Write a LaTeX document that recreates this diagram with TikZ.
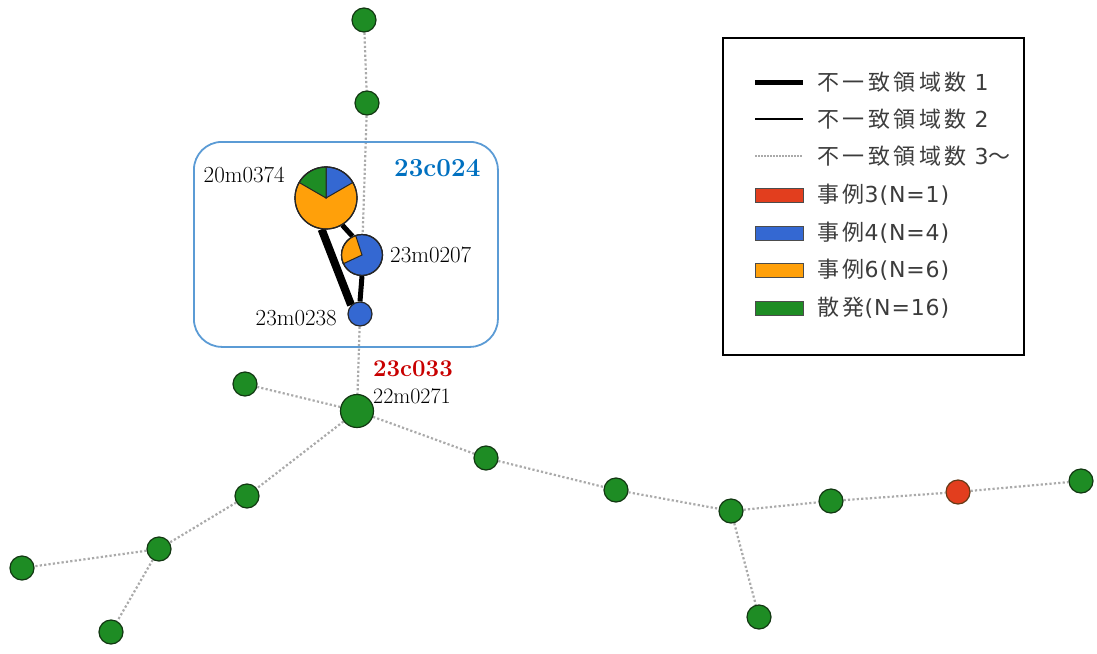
\documentclass[tikz,border=0pt]{standalone}
\usepackage{fontspec}
\newfontfamily\jpfont[LetterSpace=16]{Noto Sans CJK JP}
\newfontfamily\latfont[LetterSpace=4]{DejaVu Sans}
\usetikzlibrary{backgrounds}

\definecolor{nodegreen}{RGB}{30,140,36}
\definecolor{nodeedge}{RGB}{18,55,18}
\definecolor{casered}{RGB}{226,62,30}
\definecolor{caseblue}{RGB}{52,104,210}
\definecolor{caseorange}{RGB}{255,160,10}
\definecolor{boxblue}{RGB}{91,155,213}
\definecolor{titleblue}{RGB}{0,112,192}
\definecolor{titlered}{RGB}{200,0,0}
\definecolor{textgray}{RGB}{60,60,60}
\definecolor{dotgray}{RGB}{170,170,170}

\tikzset{
  gnode/.style={circle, draw=nodeedge, fill=nodegreen, line width=1.2pt,
    minimum size=24pt, inner sep=0pt},
  rnode/.style={gnode, fill=casered, draw=nodeedge!60!casered},
  pienode/.style={circle, draw=black!85, line width=1.2pt, inner sep=0pt},
  wedge/.style={draw=black!85, line width=1pt},
  far/.style={draw=dotgray, line width=2.2pt, dash pattern=on 2.2pt off 2.2pt},
  diffone/.style={draw=black, line width=8pt},
  difftwo/.style={draw=black, line width=5pt},
  idlabel/.style={inner sep=0pt, font=\fontsize{23}{27}\selectfont},
  legtext/.style={anchor=west, inner sep=0pt, text=textgray,
    font=\fontsize{22}{26}\selectfont},
  swatch/.style={draw=black!70, line width=1pt}
}

\begin{document}
\begin{tikzpicture}[x=1pt,y=-1pt]
\useasboundingbox (0,0) rectangle (1097,653);

% cluster frame
\node[draw=boxblue, line width=1.8pt, rounded corners=28pt,
  minimum width=304pt, minimum height=205pt, anchor=north west] (cluster) at (193,141) {};

% sporadic isolates
\node[gnode] (t1) at (364,20) {};
\node[gnode] (t2) at (367,103) {};
\node[gnode, minimum size=33pt] (n271) at (357,411) {};
\node[gnode] (a1) at (245,384) {};
\node[gnode] (b1) at (247,496) {};
\node[gnode] (b2) at (159,549) {};
\node[gnode] (b3) at (22,568) {};
\node[gnode] (b4) at (111,632) {};
\node[gnode] (c1) at (486,458) {};
\node[gnode] (c2) at (616,490) {};
\node[gnode] (c3) at (731,511) {};
\node[gnode] (c4) at (759,617) {};
\node[gnode] (c5) at (831,501) {};
\node[rnode] (c6) at (958,492) {};
\node[gnode] (c7) at (1081,481) {};

% mixed isolates drawn as pies
\node[pienode, minimum size=62pt, fill=caseorange] (p374) at (326,198) {};
\fill[caseblue, wedge] (p374.center) -- ++(30:31pt) arc[start angle=30, end angle=90, radius=31pt] -- cycle;
\fill[nodegreen, wedge] (p374.center) -- ++(90:31pt) arc[start angle=90, end angle=150, radius=31pt] -- cycle;
\draw[black!85, line width=1.2pt] (p374.center) circle[radius=31pt];

\node[pienode, minimum size=41pt, fill=caseblue] (p207) at (362,255) {};
\fill[caseorange, wedge] (p207.center) -- ++(108:20.5pt) arc[start angle=108, end angle=205, radius=20.5pt] -- cycle;
\draw[black!85, line width=1.2pt] (p207.center) circle[radius=20.5pt];

\node[pienode, minimum size=24pt, fill=caseblue] (p238) at (360,314) {};

% connectors
\begin{scope}[on background layer]
\draw[far] (t1) -- (t2);
\draw[far] (t2) -- (p207);
\draw[far] (p238) -- (n271);
\draw[far] (n271) -- (a1);
\draw[far] (n271) -- (c1);
\draw[far] (n271) -- (b1);
\draw[far] (b1) -- (b2);
\draw[far] (b2) -- (b3);
\draw[far] (b2) -- (b4);
\draw[far] (c1) -- (c2);
\draw[far] (c2) -- (c3);
\draw[far] (c3) -- (c4);
\draw[far] (c3) -- (c5);
\draw[far] (c5) -- (c6);
\draw[far] (c6) -- (c7);
\draw[diffone] (p374.-98) -- (p238.135);
\draw[difftwo] (p374.-59) -- (p207.117);
\draw[difftwo] (p207.south) -- (p238.north);
\end{scope}

% isolate and cluster labels
\node[idlabel, anchor=base east] (l374) at (285,182) {20m0374};
\node[idlabel, anchor=base west] (l207) at (390,262) {23m0207};
\node[idlabel, anchor=base east] (l238) at (337,325) {23m0238};
\node[idlabel, anchor=base west, font=\fontsize{22}{26}\selectfont] (l271) at (373,403) {22m0271};
\node[anchor=base west, inner sep=0pt, text=titleblue, font=\fontsize{26}{31}\selectfont\bfseries] (c024) at (394,176) {23c024};
\node[anchor=base west, inner sep=0pt, text=titlered, font=\fontsize{24}{29}\selectfont\bfseries] (c033) at (373,376) {23c033};

% legend
\node[draw=black, line width=2.2pt, minimum width=301pt, minimum height=317pt,
  anchor=north west, inner sep=0pt] (legend) at (722,37) {};
\draw[line width=5pt] (755,82) -- (803,82);
\draw[line width=2.5pt] (755,119) -- (803,119);
\draw[dotgray, line width=1.5pt, dash pattern=on 1.5pt off 1.5pt] (755,156) -- (803,156);
\filldraw[swatch, fill=casered] (755,188) rectangle (803,202);
\filldraw[swatch, fill=caseblue] (755,226) rectangle (803,240);
\filldraw[swatch, fill=caseorange] (755,263) rectangle (803,277);
\filldraw[swatch, fill=nodegreen] (755,301) rectangle (803,315);
\node[legtext] (t01) at (817,82) {{\jpfont 不一致領域数}{\latfont\ 1}};
\node[legtext] (t02) at (817,119) {{\jpfont 不一致領域数}{\latfont\ 2}};
\node[legtext] (t03) at (817,156) {{\jpfont 不一致領域数}{\latfont\ 3}{\jpfont 〜}};
\node[legtext] (t04) at (817,195) {{\jpfont 事例}{\latfont 3(N=1)}};
\node[legtext] (t05) at (817,233) {{\jpfont 事例}{\latfont 4(N=4)}};
\node[legtext] (t06) at (817,270) {{\jpfont 事例}{\latfont 6(N=6)}};
\node[legtext] (t07) at (817,308) {{\jpfont 散発}{\latfont (N=16)}};
\end{tikzpicture}
\end{document}
